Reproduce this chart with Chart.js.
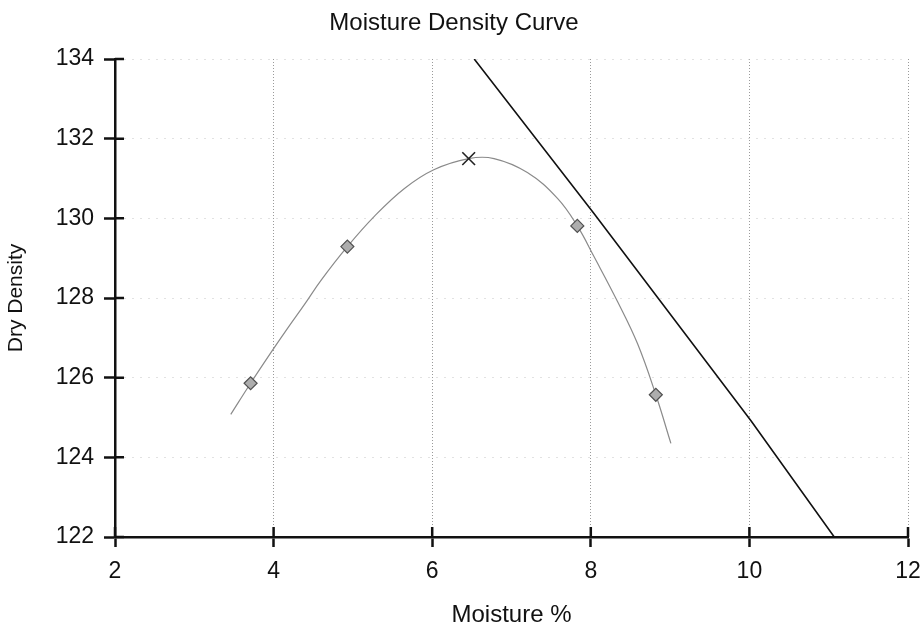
<!DOCTYPE html>
<html>
<head>
<meta charset="utf-8">
<script src="https://cdn.jsdelivr.net/npm/chart.js@4.4.1/dist/chart.umd.min.js"></script>
<style>
  html, body { margin: 0; padding: 0; background: #fff; }
  #wrap { width: 921px; height: 627px; }
</style>
</head>
<body>
<div id="wrap"><canvas id="c" width="921" height="627"></canvas></div>
<script>
// ---- Data ----
const chartTitle = 'Moisture Density Curve';
const xTitle = 'Moisture %';
const yTitle = 'Dry Density';

const xTicks = [2, 4, 6, 8, 10, 12];
const yTicks = [122, 124, 126, 128, 130, 132, 134];

// test points (diamonds)
const testMoisture = [3.71, 4.93, 7.83, 8.82];
const testDensity  = [125.86, 129.29, 129.81, 125.57];

// fitted curve (gray line)
const curveMoisture = [3.46, 3.71, 3.97, 4.18, 4.39, 4.60, 4.93, 5.27, 5.65, 6.02, 6.46, 6.78, 7.20, 7.58, 7.83, 8.04, 8.34, 8.59, 8.82, 9.01];
const curveDensity  = [125.08, 125.86, 126.64, 127.25, 127.84, 128.45, 129.29, 130.05, 130.75, 131.22, 131.50, 131.50, 131.15, 130.50, 129.81, 129.04, 127.90, 126.85, 125.57, 124.35];

// maximum dry density point (X marker)
const maxMoisture = [6.46];
const maxDensity  = [131.50];

// zero air voids line (black)
const zavMoisture = [6.53, 8.04, 10.02, 11.07];
const zavDensity  = [134.0, 130.12, 124.92, 122.0];

// ---- build chart ----
const toPts = (xs, ys) => xs.map((x, i) => ({ x: x, y: ys[i] }));
const FONT = '"Liberation Sans", Arial, sans-serif';
const INK = '#111';

const innerTicks = {
  id: 'innerTicks',
  afterDatasetsDraw(chart) {
    const { ctx, chartArea } = chart;
    const xs = chart.scales.x, ys = chart.scales.y;
    ctx.save();
    ctx.strokeStyle = INK;
    ctx.lineWidth = 2.5;
    ctx.beginPath();
    xs.ticks.forEach(t => {
      const px = xs.getPixelForValue(t.value);
      ctx.moveTo(px, chartArea.bottom);
      ctx.lineTo(px, chartArea.bottom - 10);
    });
    ys.ticks.forEach(t => {
      const py = ys.getPixelForValue(t.value);
      ctx.moveTo(chartArea.left, py);
      ctx.lineTo(chartArea.left + 9, py);
    });
    ctx.stroke();
    ctx.restore();
  }
};

new Chart(document.getElementById('c'), {
  type: 'scatter',
  data: {
    datasets: [
      {
        label: 'Zero air voids',
        data: toPts(zavMoisture, zavDensity),
        showLine: true,
        borderColor: '#111',
        borderWidth: 1.6,
        pointRadius: 0,
        tension: 0,
        order: 4
      },
      {
        label: 'Curve',
        data: toPts(curveMoisture, curveDensity),
        showLine: true,
        borderColor: '#8a8a8a',
        borderWidth: 1.2,
        pointRadius: 0,
        tension: 0.4,
        order: 3
      },
      {
        label: 'Tests',
        data: toPts(testMoisture, testDensity),
        showLine: false,
        pointStyle: 'rectRot',
        pointRadius: 6.5,
        backgroundColor: '#adadad',
        borderColor: '#505050',
        borderWidth: 1.2,
        order: 2
      },
      {
        label: 'Max',
        data: toPts(maxMoisture, maxDensity),
        showLine: false,
        pointStyle: 'crossRot',
        pointRadius: 9,
        borderColor: '#222',
        borderWidth: 1.6,
        order: 1
      }
    ]
  },
  options: {
    responsive: false,
    animation: false,
    layout: { padding: { top: 0, right: 13, bottom: 0, left: 0 } },
    plugins: {
      legend: { display: false },
      tooltip: { enabled: false },
      title: {
        display: true,
        text: chartTitle,
        color: INK,
        font: { family: FONT, size: 24, weight: 'normal', lineHeight: 1.2 },
        padding: { top: 9, bottom: 21.2 }
      }
    },
    scales: {
      x: {
        type: 'linear',
        min: xTicks[0],
        max: xTicks[xTicks.length - 1],
        afterBuildTicks(scale) { scale.ticks = xTicks.map(v => ({ value: v })); },
        afterFit(scale) { scale.height = 90; scale.paddingRight = 0; scale.paddingLeft = 0; },
        ticks: {
          color: INK,
          font: { family: FONT, size: 23 },
          padding: 11,
          maxRotation: 0
        },
        grid: {
          color: '#9a9a9a',
          lineWidth: 1,
          tickColor: INK,
          tickWidth: 2.5,
          tickLength: 10
        },
        border: { color: INK, width: 2.5, dash: [1, 2] },
        title: {
          display: true,
          text: xTitle,
          color: INK,
          font: { family: FONT, size: 24, lineHeight: 1 },
          padding: { top: 0, bottom: 0 }
        }
      },
      y: {
        type: 'linear',
        min: yTicks[0],
        max: yTicks[yTicks.length - 1],
        afterBuildTicks(scale) { scale.ticks = yTicks.map(v => ({ value: v })); },
        afterFit(scale) { scale.width = 115; },
        ticks: {
          color: INK,
          font: { family: FONT, size: 23 },
          padding: 10
        },
        grid: {
          color: '#c4c4c4',
          lineWidth: 1,
          tickColor: INK,
          tickWidth: 2.5,
          tickLength: 11
        },
        border: { color: INK, width: 2.5, dash: [1, 7] },
        title: {
          display: true,
          text: yTitle,
          color: INK,
          font: { family: FONT, size: 21, lineHeight: 1 },
          padding: { top: 6, bottom: 0 }
        }
      }
    }
  },
  plugins: [innerTicks]
});
</script>
</body>
</html>
